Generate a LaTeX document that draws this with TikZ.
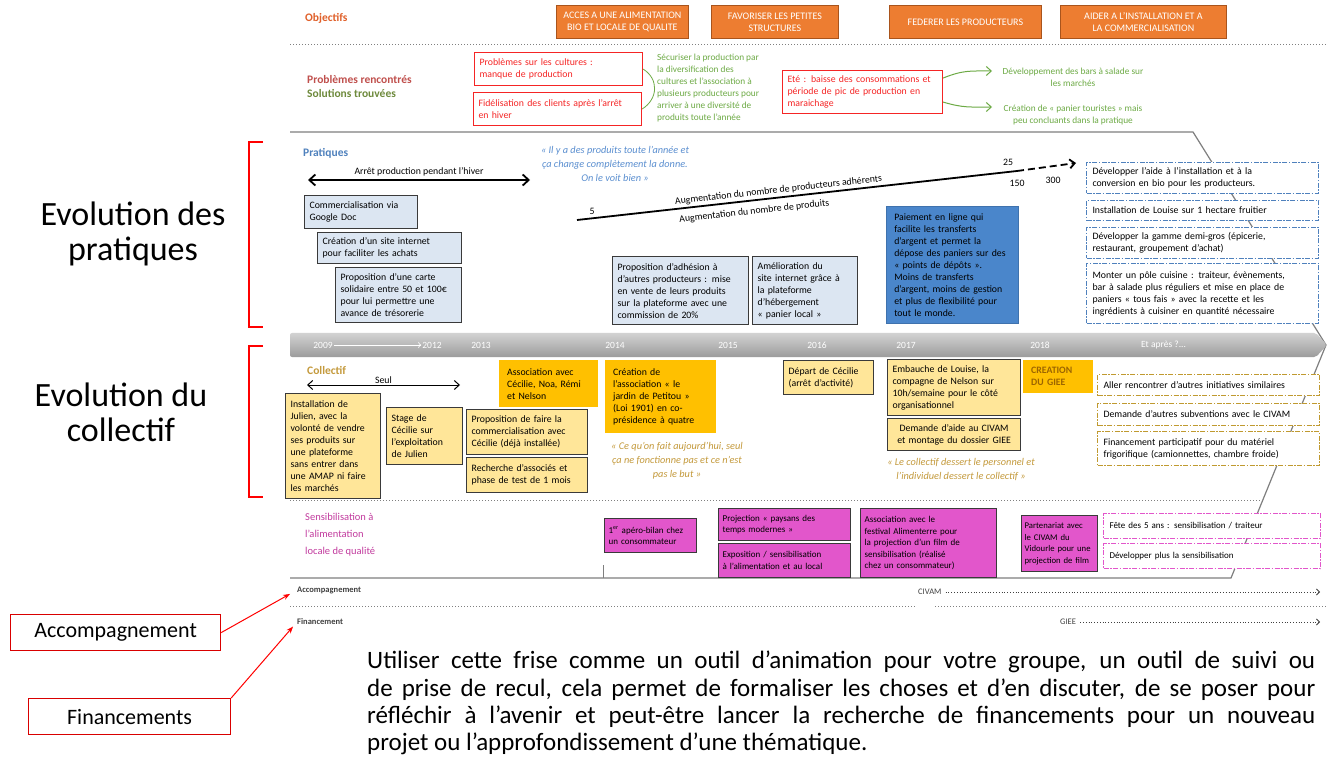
\documentclass[tikz,border=0pt]{standalone}
\usepackage{fontspec}
\setmainfont{Carlito}
\usepackage{tikz}
\usetikzlibrary{arrows.meta}

\definecolor{objorange}{HTML}{ED7D31}
\definecolor{objline}{HTML}{A9541C}
\definecolor{objtitle}{HTML}{E0602A}
\definecolor{pbred}{HTML}{F52525}
\definecolor{pbtitle}{HTML}{C0504D}
\definecolor{solgreen}{HTML}{6DAA45}
\definecolor{soltitle}{HTML}{6E8A3C}
\definecolor{prblue}{HTML}{4F81BD}
\definecolor{qblue}{HTML}{5B8FD0}
\definecolor{lightblue}{HTML}{DCE6F2}
\definecolor{midblue}{HTML}{4A86CB}
\definecolor{boxline}{HTML}{3A3A3A}
\definecolor{coltitle}{HTML}{C49A3C}
\definecolor{lightyellow}{HTML}{FFE699}
\definecolor{gold}{HTML}{FFC000}
\definecolor{golddash}{HTML}{C09A30}
\definecolor{gieetext}{HTML}{9C6500}
\definecolor{sentitle}{HTML}{C23B9E}
\definecolor{pink}{HTML}{E256CB}
\definecolor{framegray}{HTML}{7F7F7F}

\newcommand{\ftxt}{\fontsize{9.8}{12}\selectfont}
\newcommand{\fsen}{\fontsize{9}{11.6}\selectfont}
\newcommand{\fobj}{\fontsize{10}{12}\selectfont}
\newcommand{\fttl}{\fontsize{11.5}{13}\selectfont\bfseries}
\newcommand{\fsol}{\fontsize{9.3}{12}\selectfont}
\newcommand{\fquote}{\fontsize{10.3}{14}\selectfont\itshape}
\newcommand{\fyear}{\fontsize{9.5}{10}\selectfont}
\newcommand{\fsmall}{\fontsize{8.5}{10}\selectfont}
\newcommand{\fbig}{\fontsize{34}{35}\selectfont}
\newcommand{\flab}{\fontsize{22}{24}\selectfont}
\newcommand{\fpar}{\fontsize{25}{27.3}\selectfont}

\begin{document}
\begin{tikzpicture}[x=1pt,y=-1pt]
\tikzset{objbox/.style={draw=objline, line width=0.8pt, fill=objorange, text=white, font=\fobj, align=center, anchor=north west, inner sep=1pt, minimum height=33pt}}
\tikzset{ttl/.style={font=\fttl, anchor=west, inner sep=0pt}}
\tikzset{pbbox/.style={draw=pbred, line width=1.1pt, text=pbred, font=\ftxt, align=left, anchor=north west, inner xsep=5pt, inner ysep=2pt}}
\tikzset{sol/.style={font=\fsol, text=solgreen, inner sep=0pt}}
\tikzset{prbox/.style={draw=boxline, line width=1.2pt, fill=lightblue, font=\ftxt, align=left, anchor=north west, inner xsep=5pt, inner ysep=2pt}}
\tikzset{ybox/.style={prbox, fill=lightyellow}}
\tikzset{gbox/.style={fill=gold, font=\ftxt, align=left, anchor=north west, inner xsep=8pt, inner ysep=3pt}}
\tikzset{pkbox/.style={prbox, fill=pink, font=\fsen, inner xsep=4pt}}
\tikzset{dashbox/.style={fill=white, line width=1pt, dash pattern=on 5pt off 1.5pt on 1.5pt off 1.5pt, font=\ftxt, align=left, anchor=north west, inner xsep=6pt, inner ysep=2pt}}
\tikzset{citation/.style={font=\fquote, align=center, inner sep=0pt}}
\tikzset{year/.style={font=\fyear, text=white, inner sep=1pt}}
\tikzset{barb/.style={-{Straight Barb[length=5pt, width=9pt]}}}
\useasboundingbox (0,0) rectangle (1327,775);
\fill[white] (0,0) rectangle (1327,775);

%frame and time line
\draw[framegray, line width=1.2pt] (290,132) -- (1193,132) -- (1326,345) -- (1231,578) -- (290,578);
\draw[framegray, line width=1pt] (603,565) -- (603,578);
\shade[top color=gray!35, bottom color=gray!78, rounded corners=2pt] (290,333) -- (1316,333) -- (1327,345) -- (1316,357) -- (290,357) -- cycle;
\draw[gray, dotted, line width=1pt] (290,45) -- (1327,45);
\draw[gray, dotted, line width=1pt] (290,500) -- (1262,500);
\draw[gray, dotted, line width=1pt] (290,606) -- (915,606);
\draw[gray, dotted, line width=1pt] (935,606) -- (1327,606);

%objectifs
\node[ttl, text=objtitle] (objt) at (305,18) {Objectifs};
\node[objbox, minimum width=132pt] (obj1) at (556,5) {ACCES A UNE ALIMENTATION\\BIO ET LOCALE DE QUALITE};
\node[objbox, minimum width=127pt] (obj2) at (711,5) {FAVORISER LES PETITES\\STRUCTURES};
\node[objbox, minimum width=152pt] (obj3) at (889,5) {FEDERER LES PRODUCTEURS};
\node[objbox, minimum width=166pt] (obj4) at (1060,5) {AIDER A L'INSTALLATION ET A\\LA COMMERCIALISATION};

%problemes et solutions
\node[ttl, text=pbtitle] (pbt) at (307,80) {Problèmes rencontrés};
\node[ttl, text=soltitle] (solt) at (307,94) {Solutions trouvées};
\node[pbbox, text width=158pt, minimum height=33pt] (pb1) at (474,52) {Problèmes sur les cultures :\\manque de production};
\node[pbbox, text width=158pt, minimum height=33pt] (pb2) at (473,92) {Fidélisation des clients après l'arrêt\\en hiver};
\node[sol, anchor=north west, align=left] (sol1) at (657,54) {Sécuriser la production par\\la diversification des\\cultures et l'association à\\plusieurs producteurs pour\\arriver à une diversité de\\produits toute l'année};
\draw[solgreen, line width=0.8pt] (pb1.east) .. controls +(16,10) and +(16,-10) .. (pb2.east);
\node[pbbox, text width=150pt, minimum height=43pt] (pb3) at (782,70) {Eté : baisse des consommations et\\période de pic de production en\\maraichage};
\node[sol, align=center] (sol2) at (1073,77) {Développement des bars à salade sur\\les marchés};
\node[sol, align=center] (sol3) at (1073,115) {Création de « panier touristes » mais\\peu concluants dans la pratique};
\coordinate (sol2in) at (992,71);
\coordinate (sol3in) at (992,107);
\draw[solgreen, line width=1pt, barb] ([yshift=14pt]pb3.east) .. controls +(20,-8) and +(-22,0) .. (sol2in);
\draw[solgreen, line width=1pt, barb] ([yshift=-10pt]pb3.east) .. controls +(20,6) and +(-22,0) .. (sol3in);

%pratiques
\node[ttl, text=prblue] (prt) at (303,153) {Pratiques};
\coordinate (hiver1) at (308,180);
\coordinate (hiver2) at (530,180);
\draw[line width=1.8pt, {Straight Barb[length=6pt,width=11pt]}-{Straight Barb[length=6pt,width=11pt]}] (hiver1) -- (hiver2) node[midway, above=3pt, font=\ftxt, inner sep=0pt] (hivert) {Arrêt production pendant l'hiver};
\node[citation, text=qblue] (q1) at (615,164) {« Il y a des produits toute l'année et\\ça change complètement la donne.\\On le voit bien »};
\node[prbox, text width=103pt, minimum height=33pt] (pr1) at (304,195) {Commercialisation via\\Google Doc};
\node[prbox, text width=134pt, minimum height=31pt] (pr2) at (317,232) {Création d'un site internet\\pour faciliter les achats};
\node[prbox, text width=116pt, minimum height=55pt] (pr3) at (335,267) {Proposition d'une carte\\solidaire entre 50 et 100€\\pour lui permettre une\\avance de trésorerie};
\node[prbox, text width=126pt, minimum height=68pt] (pr4) at (612,256) {Proposition d'adhésion à\\d'autres producteurs : mise\\en vente de leurs produits\\sur la plateforme avec une\\commission de 20\%};
\node[prbox, text width=95pt, minimum height=68pt] (pr5) at (752,256) {Amélioration du\\site internet grâce à\\la plateforme\\d'hébergement\\« panier local »};
\node[prbox, fill=midblue, draw=midblue!85!black, line width=0.5pt, inner xsep=8pt, text width=116pt, minimum height=117pt] (pr6) at (886,206) {Paiement en ligne qui\\facilite les transferts\\d'argent et permet la\\dépose des paniers sur des\\« points de dépôts ».\\Moins de transferts\\d'argent, moins de gestion\\et plus de flexibilité pour\\tout le monde.};
\coordinate (g0) at (577,220);
\coordinate (g1) at (1017,171);
\coordinate (g2) at (1076,163);
\draw[line width=1.8pt] (g0) -- (g1) node[pos=0.46, above=2pt, sloped, font=\ftxt, inner sep=0pt] (adh) {Augmentation du nombre de producteurs adhérents} node[pos=0.40, below=6pt, sloped, font=\ftxt, inner sep=0pt] (prod) {Augmentation du nombre de produits};
\draw[line width=1.8pt, dash pattern=on 7pt off 4pt, barb] (g1) -- (g2);
\node[font=\ftxt] (n5) at (592,211) {5};
\node[font=\ftxt] (n25) at (1008,162) {25};
\node[font=\ftxt] (n150) at (1017,183) {150};
\node[font=\ftxt] (n300) at (1053,180) {300};
\node[dashbox, draw=prblue, text width=220pt, minimum height=31pt] (d1) at (1086,162) {Développer l'aide à l'installation et à la\\conversion en bio pour les producteurs.};
\node[dashbox, draw=prblue, text width=220pt, minimum height=20pt] (d2) at (1086,200) {Installation de Louise sur 1 hectare fruitier};
\node[dashbox, draw=prblue, text width=220pt, minimum height=31pt] (d3) at (1086,227) {Développer la gamme demi-gros (épicerie,\\restaurant, groupement d'achat)};
\node[dashbox, draw=prblue, text width=220pt, minimum height=60pt] (d4) at (1086,263) {Monter un pôle cuisine : traiteur, évènements,\\bar à salade plus réguliers et mise en place de\\paniers « tous fais » avec la recette et les\\ingrédients à cuisiner en quantité nécessaire};

%annees
\node[year] (y09) at (323,345) {2009};
\node[year] (y12) at (432,345) {2012};
\draw[white, line width=0.6pt, ->] (y09) -- (y12);
\node[year] (y13) at (481,345) {2013};
\node[year] (y14) at (615,345) {2014};
\node[year] (y15) at (728,345) {2015};
\node[year] (y16) at (817,345) {2016};
\node[year] (y17) at (906,345) {2017};
\node[year] (y18) at (1040,345) {2018};
\node[year, anchor=west] (yapres) at (1140,345) {Et après ?...};

%collectif
\node[ttl, text=coltitle] (colt) at (307,370) {Collectif};
\coordinate (seul1) at (307,385);
\coordinate (seul2) at (460,385);
\draw[line width=1pt, {Straight Barb[length=5pt,width=9pt]}-{Straight Barb[length=5pt,width=9pt]}] (seul1) -- (seul2) node[midway, above=1pt, font=\ftxt, inner sep=0pt] (seult) {Seul};
\node[ybox, text width=85pt, minimum height=105pt] (c1) at (285,393) {Installation de\\Julien, avec la\\volonté de vendre\\ses produits sur\\une plateforme\\sans entrer dans\\une AMAP ni faire\\les marchés};
\node[ybox, text width=66pt, minimum height=57pt] (c2) at (386,407) {Stage de\\Cécilie sur\\l'exploitation\\de Julien};
\node[ybox, text width=111pt, minimum height=45pt] (c3) at (466,409) {Proposition de faire la\\commercialisation avec\\Cécilie (déjà installée)};
\node[ybox, text width=111pt, minimum height=35pt] (c4) at (466,457) {Recherche d'associés et\\phase de test de 1 mois};
\node[gbox, text width=83pt, minimum height=47pt] (g1box) at (499,360) {Association avec\\Cécilie, Noa, Rémi\\et Nelson};
\node[gbox, text width=95pt, minimum height=73pt] (g2box) at (605,360) {Création de\\l'association « le\\jardin de Petitou »\\(Loi 1901) en co-\\présidence à quatre};
\node[citation, text=coltitle] (q2) at (677,461) {« Ce qu'on fait aujourd'hui, seul\\ça ne fonctionne pas et ce n'est\\pas le but »};
\node[ybox, text width=80pt, minimum height=34pt] (c5) at (783,360) {Départ de Cécilie\\(arrêt d'activité)};
\node[ybox, text width=123pt, minimum height=56pt] (c6) at (887,359) {Embauche de Louise, la\\compagne de Nelson sur\\10h/semaine pour le côté\\organisationnel};
\node[ybox, text width=123pt, minimum height=32pt, align=center] (c7) at (887,418) {Demande d'aide au CIVAM\\et montage du dossier GIEE};
\node[gbox, text width=54pt, minimum height=33pt, text=gieetext, font=\ftxt\bfseries] (g3box) at (1023,360) {CREATION\\DU GIEE};
\node[citation, text=coltitle] (q3) at (961,470) {« Le collectif dessert le personnel et\\l'individuel dessert le collectif »};
\node[dashbox, draw=golddash, text width=210pt, minimum height=21pt] (e1) at (1097,374) {Aller rencontrer d'autres initiatives similaires};
\node[dashbox, draw=golddash, text width=210pt, minimum height=22pt] (e2) at (1097,403) {Demande d'autres subventions avec le CIVAM};
\node[dashbox, draw=golddash, text width=210pt, minimum height=34pt] (e3) at (1097,431) {Financement participatif pour du matériel\\frigorifique (camionnettes, chambre froide)};

%sensibilisation
\node[anchor=north west, inner sep=0pt, align=left, text=sentitle, font=\fontsize{10.5}{17}\selectfont] (sent) at (305,513) {Sensibilisation à\\l'alimentation\\locale de qualité};
\node[pkbox, text width=84pt, minimum height=34pt] (m1) at (604,518) {1\textsuperscript{er} apéro-bilan chez\\un consommateur};
\node[pkbox, text width=124pt, minimum height=32pt] (m2) at (718,508) {Projection « paysans des\\temps modernes »};
\node[pkbox, text width=124pt, minimum height=34pt] (m3) at (718,543) {Exposition / sensibilisation\\à l'alimentation et au local};
\node[pkbox, text width=128pt, minimum height=69pt] (m4) at (860,508) {Association avec le\\festival Alimenterre pour\\la projection d'un film de\\sensibilisation (réalisé\\chez un consommateur)};
\node[pkbox, inner xsep=3pt, text width=70pt, minimum height=56pt, font=\fontsize{8.7}{11.6}\selectfont] (m5) at (1021,515) {Partenariat avec\\le CIVAM du\\Vidourle pour une\\projection de film};
\node[dashbox, draw=pink, font=\fsen, text width=205pt, minimum height=25pt] (f1) at (1103,513) {Fête des 5 ans : sensibilisation / traiteur};
\node[dashbox, draw=pink, font=\fsen, text width=205pt, minimum height=25pt] (f2) at (1103,543) {Développer plus la sensibilisation};

%accompagnement et financement
\node[anchor=west, inner sep=0pt, font=\fsmall\bfseries, text=darkgray] (acc) at (297,590) {Accompagnement};
\node[anchor=west, inner sep=0pt, font=\fsmall, text=darkgray] (civam) at (918,592) {CIVAM};
\coordinate (civamend) at (1320,592);
\draw[darkgray, dotted, line width=0.8pt, -{Straight Barb[length=3pt,width=6pt]}] ([xshift=4pt]civam.east) -- (civamend);
\node[anchor=west, inner sep=0pt, font=\fsmall\bfseries, text=darkgray] (fin) at (297,622) {Financement};
\node[anchor=west, inner sep=0pt, font=\fsmall, text=darkgray] (giee) at (1060,622) {GIEE};
\coordinate (gieeend) at (1320,622);
\draw[darkgray, dotted, line width=0.8pt, -{Straight Barb[length=3pt,width=6pt]}] ([xshift=4pt]giee.east) -- (gieeend);

%etiquettes a gauche
\node[font=\fbig, align=center] (evprat) at (133,234) {Evolution des\\pratiques};
\node[font=\fbig, align=center] (evcoll) at (121,412) {Evolution du\\collectif};
\draw[red, line width=2.5pt] (263,142) -- (249,142) -- (249,327) -- (263,327);
\draw[red, line width=2.5pt] (263,346) -- (249,346) -- (249,497) -- (263,497);
\node[draw=red!85!black, line width=1.2pt, font=\flab, minimum width=210pt, minimum height=36pt, anchor=north west] (labacc) at (10,614) {Accompagnement};
\node[draw=red!85!black, line width=1.2pt, font=\flab, minimum width=202pt, minimum height=36pt, anchor=north west] (labfin) at (28,698) {Financements};
\draw[red, line width=1pt, -{Stealth[length=7pt]}, shorten >=8pt] (labacc.east) -- (acc.west);
\draw[red, line width=1pt, -{Stealth[length=7pt]}, shorten >=6pt] (labfin.north east) -- (fin.west);

%texte
\node[anchor=north west, inner sep=0pt, font=\fpar, align=left] (para) at (367,651) {\makebox[948pt][s]{Utiliser cette frise comme un outil d'animation pour votre groupe, un outil de suivi ou}\\\makebox[948pt][s]{de prise de recul, cela permet de formaliser les choses et d'en discuter, de se poser pour}\\\makebox[948pt][s]{réfléchir à l'avenir et peut-être lancer la recherche de financements pour un nouveau}\\projet ou l'approfondissement d'une thématique.};
\end{tikzpicture}
\end{document}
